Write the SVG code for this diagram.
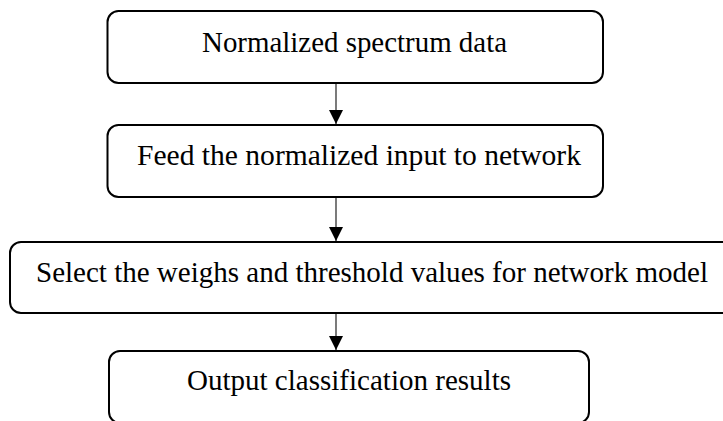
<svg xmlns="http://www.w3.org/2000/svg" width="723" height="421" viewBox="0 0 723 421">
<defs>
<style>
.box{fill:#fff;stroke:#000;stroke-width:2}
.lbl{font-family:"Liberation Serif","Times New Roman",serif;font-size:29.5px;fill:#000;text-anchor:start}
.conn{stroke:#333;stroke-width:1.3;fill:none}
</style>
<marker id="arr" markerUnits="userSpaceOnUse" markerWidth="14" markerHeight="14" refX="14" refY="7" orient="auto" viewBox="0 0 14 14">
<path d="M0,0 L14,7 L0,14 Z" fill="#000"/>
</marker>
</defs>
<rect width="723" height="421" fill="#fff"/>
<g id="connectors">
<line class="conn" x1="336" y1="84" x2="336" y2="124" marker-end="url(#arr)"/>
<line class="conn" x1="336" y1="198" x2="336" y2="241" marker-end="url(#arr)"/>
<line class="conn" x1="336" y1="314" x2="336" y2="350" marker-end="url(#arr)"/>
</g>
<g id="node1">
<rect class="box" x="107.5" y="11" width="495.5" height="72" rx="11"/>
<text class="lbl" x="202" y="52" textLength="305" lengthAdjust="spacingAndGlyphs">Normalized spectrum data</text>
</g>
<g id="node2">
<rect class="box" x="107.5" y="125" width="495.5" height="72" rx="11"/>
<text class="lbl" x="137" y="165" textLength="444" lengthAdjust="spacingAndGlyphs">Feed the normalized input to network</text>
</g>
<g id="node3">
<rect class="box" x="10" y="242" width="725" height="71" rx="11"/>
<text class="lbl" x="36" y="282" textLength="672" lengthAdjust="spacingAndGlyphs">Select the weighs and threshold values for network model</text>
</g>
<g id="node4">
<rect class="box" x="109" y="351" width="480" height="72" rx="11"/>
<text class="lbl" x="187" y="390" textLength="324" lengthAdjust="spacingAndGlyphs">Output classification results</text>
</g>
</svg>
